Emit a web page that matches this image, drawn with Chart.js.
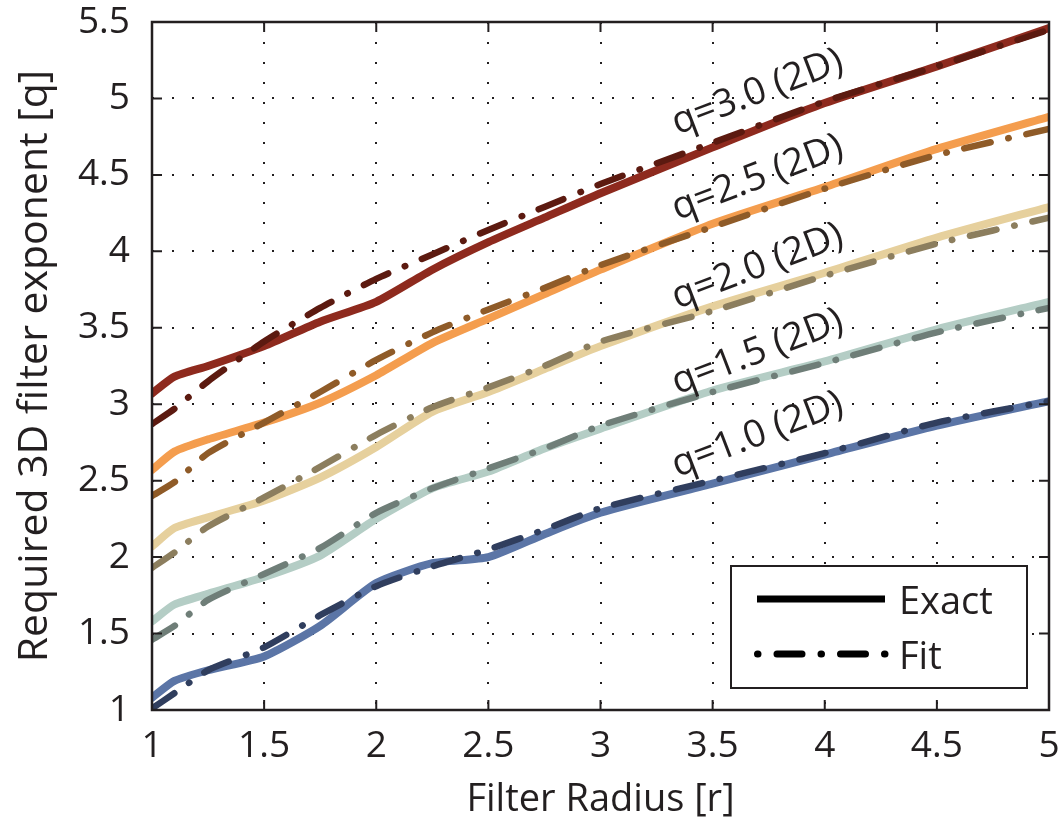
<!DOCTYPE html>
<html><head><meta charset="utf-8">
<script src="https://cdn.jsdelivr.net/npm/chart.js@4/dist/chart.umd.min.js"></script>
<style>html,body{margin:0;padding:0;background:#fff}#wrap{width:1059px;height:823px;position:relative}</style>
</head><body><div id="wrap"><canvas id="c"></canvas></div>
<script>
// ---- data ----
const filterRadius = [1, 1.1, 1.25, 1.5, 1.75, 2, 2.25, 2.5, 2.75, 3, 3.5, 4, 4.5, 5];
const exactQ30 = [3.07, 3.18, 3.25, 3.38, 3.54, 3.67, 3.88, 4.06, 4.22, 4.38, 4.68, 4.97, 5.21, 5.46];
const fitQ30   = [2.87, 2.97, 3.15, 3.41, 3.63, 3.82, 3.98, 4.14, 4.29, 4.44, 4.71, 4.98, 5.21, 5.45];
const exactQ25 = [2.57, 2.69, 2.77, 2.88, 3.01, 3.19, 3.40, 3.56, 3.72, 3.88, 4.18, 4.42, 4.67, 4.88];
const fitQ25   = [2.40, 2.49, 2.68, 2.88, 3.08, 3.29, 3.47, 3.62, 3.76, 3.91, 4.16, 4.41, 4.63, 4.80];
const exactQ20 = [2.07, 2.19, 2.26, 2.37, 2.52, 2.72, 2.95, 3.08, 3.23, 3.38, 3.64, 3.86, 4.09, 4.29];
const fitQ20   = [1.93, 2.03, 2.20, 2.39, 2.59, 2.80, 2.98, 3.11, 3.25, 3.41, 3.61, 3.84, 4.05, 4.22];
const exactQ15 = [1.58, 1.69, 1.76, 1.87, 2.01, 2.25, 2.45, 2.56, 2.71, 2.84, 3.09, 3.28, 3.49, 3.67];
const fitQ15   = [1.46, 1.55, 1.72, 1.89, 2.06, 2.29, 2.45, 2.58, 2.71, 2.86, 3.08, 3.27, 3.47, 3.63];
const exactQ10 = [1.08, 1.19, 1.26, 1.35, 1.55, 1.83, 1.96, 2.00, 2.15, 2.29, 2.48, 2.67, 2.86, 3.02];
const fitQ10   = [1.01, 1.11, 1.26, 1.41, 1.62, 1.81, 1.94, 2.05, 2.18, 2.32, 2.50, 2.68, 2.88, 3.02];
const curveLabels = ['q=3.0 (2D)', 'q=2.5 (2D)', 'q=2.0 (2D)', 'q=1.5 (2D)', 'q=1.0 (2D)'];
const legendLabels = ['Exact', 'Fit'];
const xTitle = 'Filter Radius [r]';
const yTitle = 'Required 3D filter exponent [q]';

// ---- styling ----
const INK = '#231f20';
const FONT = '"Open Sans", "DejaVu Sans", sans-serif';
const FIT_DASH = [27, 18, 0.5, 18];
const pts = ys => filterRadius.map((x, i) => ({x, y: ys[i]}));
const exactDs = (data, color) => ({data: pts(data), borderColor: color, borderWidth: 8, pointRadius: 0,
  tension: 0.2, borderCapStyle: 'round', borderJoinStyle: 'round', order: 2, fill: false});
const fitDs = (data, color) => ({data: pts(data), borderColor: color, borderWidth: 6.5, pointRadius: 0,
  tension: 0.2, borderCapStyle: 'round', borderJoinStyle: 'round', borderDash: FIT_DASH, order: 1, fill: false});

const datasets = [
  fitDs(fitQ30, '#5c1a10'), exactDs(exactQ30, '#8e2a1e'),
  fitDs(fitQ25, '#8f5b28'), exactDs(exactQ25, '#f49d4e'),
  fitDs(fitQ20, '#8c7e5e'), exactDs(exactQ20, '#e6d09d'),
  fitDs(fitQ15, '#6f7e78'), exactDs(exactQ15, '#b4cdc5'),
  fitDs(fitQ10, '#303e5e'), exactDs(exactQ10, '#5b75a6'),
];

const frame = {
  id: 'frame',
  afterDatasetsDraw(chart) {
    const {ctx, chartArea: a, scales: {x, y}} = chart;
    ctx.save();
    ctx.strokeStyle = INK; ctx.lineWidth = 2; ctx.setLineDash([]);
    const tl = 10;
    x.ticks.forEach(t => { const px = x.getPixelForValue(t.value);
      ctx.beginPath(); ctx.moveTo(px, a.bottom); ctx.lineTo(px, a.bottom - tl);
      ctx.moveTo(px, a.top); ctx.lineTo(px, a.top + tl); ctx.stroke(); });
    y.ticks.forEach(t => { const py = y.getPixelForValue(t.value);
      ctx.beginPath(); ctx.moveTo(a.left, py); ctx.lineTo(a.left + tl, py);
      ctx.moveTo(a.right, py); ctx.lineTo(a.right - tl, py); ctx.stroke(); });
    ctx.lineWidth = 2.5;
    ctx.strokeRect(a.left, a.top, a.right - a.left, a.bottom - a.top);

    const annPos = [[3.7, 5.04], [3.7, 4.48], [3.7, 3.90], [3.7, 3.34], [3.7, 2.80]];
    ctx.fillStyle = INK; ctx.font = '38px ' + FONT;
    ctx.textAlign = 'center'; ctx.textBaseline = 'middle';
    curveLabels.forEach((s, i) => {
      ctx.save();
      ctx.translate(x.getPixelForValue(annPos[i][0]), y.getPixelForValue(annPos[i][1]));
      ctx.rotate(-21 * Math.PI / 180);
      ctx.fillText(s, 0, 0);
      ctx.restore();
    });

    const lx = 731, ly = 566, lw = 296, lh = 122;
    ctx.fillStyle = '#fff'; ctx.fillRect(lx, ly, lw, lh);
    ctx.strokeStyle = INK; ctx.lineWidth = 2; ctx.strokeRect(lx, ly, lw, lh);
    ctx.lineWidth = 7; ctx.strokeStyle = '#000'; ctx.lineCap = 'butt';
    ctx.beginPath(); ctx.moveTo(757, 599); ctx.lineTo(885, 599); ctx.stroke();
    ctx.lineCap = 'round';
    ctx.setLineDash([0.5, 19, 25, 19]);
    ctx.beginPath(); ctx.moveTo(757.5, 654); ctx.lineTo(886, 654); ctx.stroke();
    ctx.setLineDash([]);
    ctx.fillStyle = INK; ctx.font = '38px ' + FONT; ctx.textAlign = 'left'; ctx.textBaseline = 'alphabetic';
    ctx.fillText(legendLabels[0], 899, 614);
    ctx.fillText(legendLabels[1], 899, 669);
    ctx.restore();
  }
};

const fmt = v => String(Math.round(v * 10) / 10);

new Chart(document.getElementById('c'), {
  type: 'line',
  data: {datasets},
  plugins: [frame],
  options: {
    responsive: true, maintainAspectRatio: false, animation: false,
    layout: {padding: {top: 22, right: 10, left: 0, bottom: 0}},
    plugins: {legend: {display: false}, tooltip: {enabled: false}},
    scales: {
      x: {type: 'linear', min: 1, max: 5,
        afterFit: s => { s.height = 113; s.paddingLeft = 0; s.paddingRight = 0; },
        ticks: {stepSize: 0.5, color: INK, font: {family: FONT, size: 37}, padding: 14, maxRotation: 0, callback: fmt},
        grid: {color: INK, lineWidth: 2, drawTicks: false},
        border: {display: false, dash: [2, 18]},
        title: {display: true, text: xTitle, color: INK, font: {family: FONT, size: 38}, padding: {top: 0, bottom: 0}}
      },
      y: {type: 'linear', min: 1, max: 5.5,
        afterFit: s => { s.width = 152; s.paddingTop = 0; s.paddingBottom = 0; },
        ticks: {stepSize: 0.5, color: INK, font: {family: FONT, size: 37}, padding: 22, callback: fmt},
        grid: {color: INK, lineWidth: 2, drawTicks: false},
        border: {display: false, dash: [2, 18]},
        title: {display: true, text: yTitle, color: INK, font: {family: FONT, size: 41}, padding: {top: 11, bottom: 0}}
      }
    }
  }
});
</script></body></html>
